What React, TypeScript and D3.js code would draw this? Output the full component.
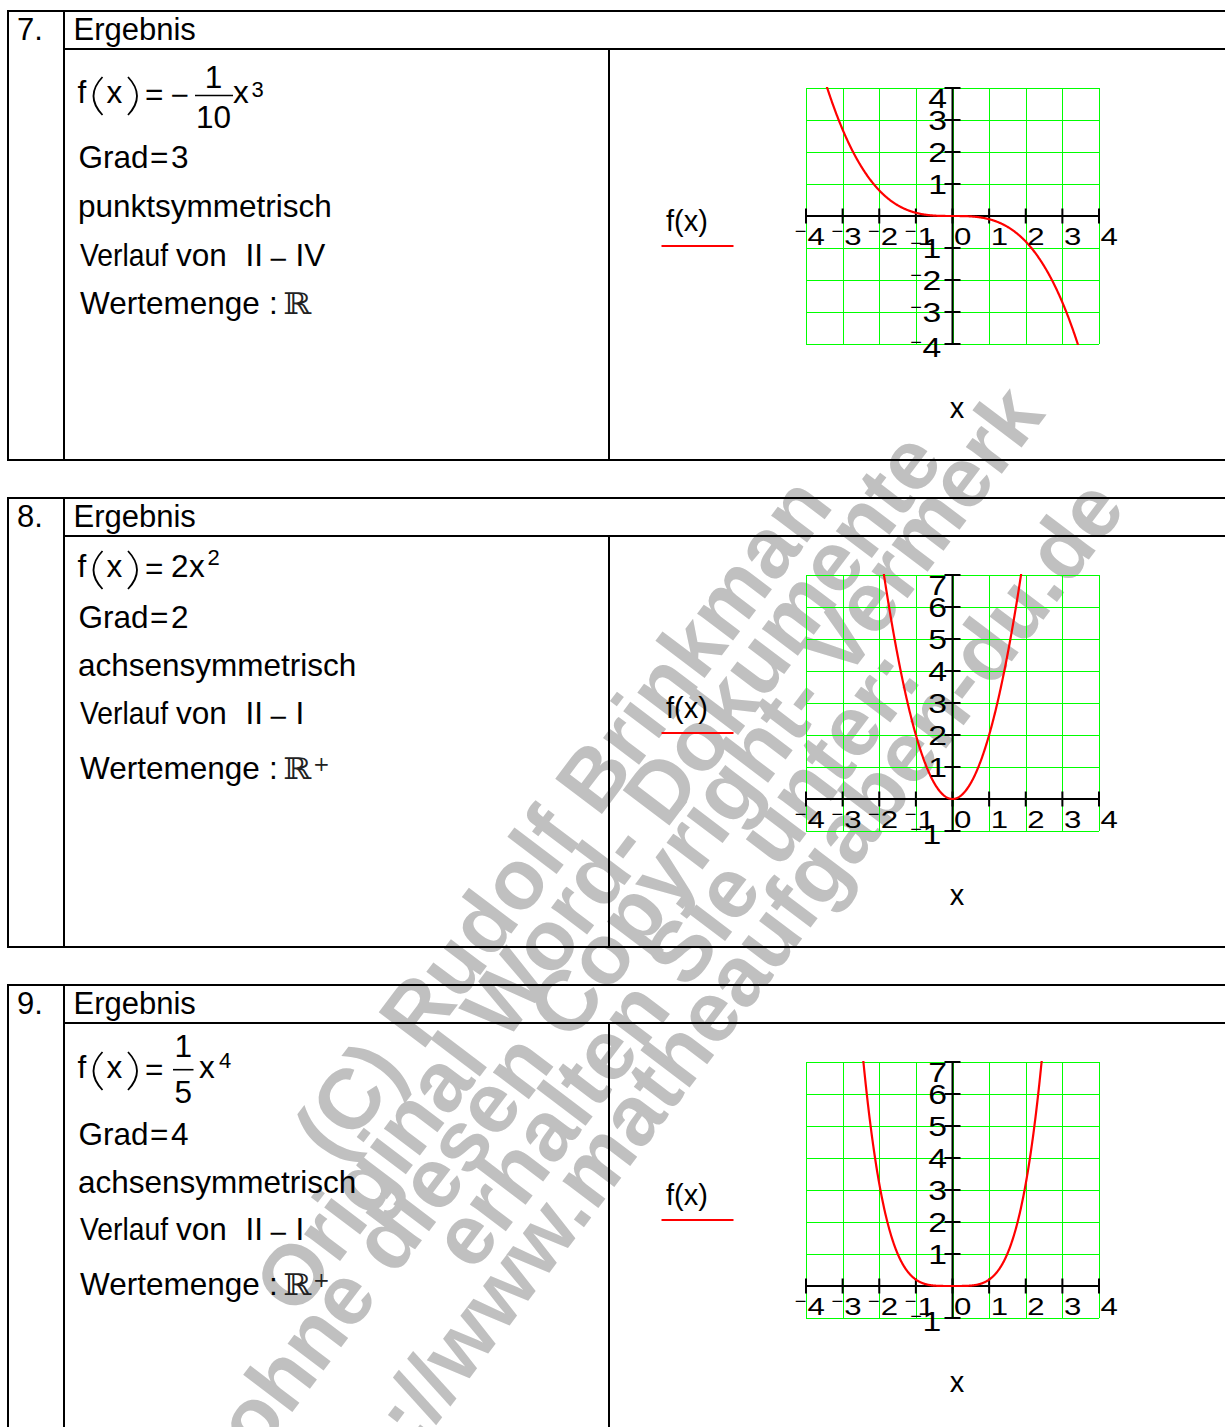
import React from "react";
import * as d3 from "d3";

const PAGE_W = 1225;
const PAGE_H = 1427;
const FONT = "'Liberation Sans', Arial, Helvetica, sans-serif";

// ---------- content ----------
const panelNumbers = ["7.", "8.", "9."];
const headerText = "Ergebnis";
const coefNumerators = [-1, 2, 1];
const coefDenominators = [10, 1, 5];
const exponents = [3, 2, 4];
const symmetryTexts = ["punktsymmetrisch", "achsensymmetrisch", "achsensymmetrisch"];
const courseFrom = ["II", "II", "II"];
const courseTo = ["IV", "I", "I"];
const rangeSymbol = "ℝ";
const rangeSuperscripts = ["", "+", "+"];
const legendText = "f(x)";
const axisTitle = "x";
const xDomain: [number, number] = [-4, 4];
const yDomains: [number, number][] = [
  [-4, 4],
  [-1, 7],
  [-1, 7],
];
const xTickValues = [-4, -3, -2, -1, 0, 1, 2, 3, 4];
const yTickValues = [
  [-4, -3, -2, -1, 0, 1, 2, 3, 4],
  [-1, 0, 1, 2, 3, 4, 5, 6, 7],
  [-1, 0, 1, 2, 3, 4, 5, 6, 7],
];
const sampleStep = 0.01;

const watermarkLines = [
  "(C) Rudolf Brinkman",
  "Original Word- Dokumente",
  "ohne diesen Copyright- Vermerk",
  "erhalten Sie unter:",
  "http://www.matheaufgaben-du.de",
];

// ---------- layout ----------
const SECTION_TOPS = [11, 498, 985];
const HEADER_H = 38;
const SECTION_H = 449;
const LEFT_X = 8;
const COL_NUM_X = 64;
const COL_MID_X = 609;
// baselines (relative to section top): formula, Grad, symmetry, Verlauf, Wertemenge
const ROW_BASELINES = [
  [92, 157, 206, 255, 303],
  [79, 130, 178, 226, 281],
  [93, 160, 208, 255, 310],
];
const FORMULA_LAYOUT = [
  { minusX: 170.5, fracX0: 195, fracX1: 233, fracCx: 213.5, numDy: -15, barDy: -7.5, denDy: 25, xX: 233, supX: 251.5, supDy: -6.5 },
  { coefX: 171, xX: 189, supX: 207.5, supDy: -12 },
  { fracX0: 173, fracX1: 193.5, fracCx: 183.3, numDy: -21.5, barDy: -8.3, denDy: 25, xX: 199, supX: 219, supDy: -10 },
];
const PLOT = { left: 806, right: 1099, top: 77, height: 256 };
const WATERMARK = {
  angle: -52.9,
  size: 85,
  anchors: [
    [585.7, 835.3],
    [621, 889.7],
    [652, 936.3],
    [698.7, 976],
    [724, 1042],
  ],
};

const TXT = 31.5;
const GRID_COLOR = "#00ff00";
const CURVE_COLOR = "#ff0000";

function Watermark() {
  return (
    <g fill="#c0c0c0" fontWeight="bold" fontSize={WATERMARK.size} fontFamily={FONT}>
      {watermarkLines.map((t, k) => {
        const [ax, ay] = WATERMARK.anchors[k];
        return (
          <text key={k} x={0} y={0} textAnchor="middle" transform={`translate(${ax},${ay}) rotate(${WATERMARK.angle})`}>
            {t}
          </text>
        );
      })}
    </g>
  );
}

function Paren({ x, y, open }: { x: number; y: number; open: boolean }) {
  const bulge = open ? -18 : 18;
  return (
    <path
      d={`M${x},${y - 26} Q${x + bulge},${y - 7} ${x},${y + 12}`}
      fill="none"
      stroke="#000"
      strokeWidth={1.8}
    />
  );
}

function Formula({ i, y }: { i: number; y: number }) {
  const L: any = FORMULA_LAYOUT[i];
  const num = coefNumerators[i];
  const den = coefDenominators[i];
  const parts: React.ReactNode[] = [];
  if (num < 0 && L.minusX !== undefined) {
    parts.push(
      <text key="m" x={L.minusX} y={y + 3}>
        {"\u2212"}
      </text>
    );
  }
  if (den !== 1) {
    parts.push(
      <g key="frac">
        <text x={L.fracCx} y={y + L.numDy} textAnchor="middle">
          {Math.abs(num)}
        </text>
        <line x1={L.fracX0} x2={L.fracX1} y1={y + L.barDy} y2={y + L.barDy} stroke="#000" strokeWidth={1.6} />
        <text x={L.fracCx} y={y + L.denDy} textAnchor="middle">
          {den}
        </text>
      </g>
    );
  } else {
    parts.push(
      <text key="c" x={L.coefX} y={y}>
        {num}
      </text>
    );
  }
  return (
    <g fontSize={TXT}>
      <text x={77.5} y={y}>f</text>
      <Paren x={102.5} y={y} open={true} />
      <text x={106.5} y={y}>x</text>
      <Paren x={128} y={y} open={false} />
      <text x={145} y={y + 1.5}>=</text>
      {parts}
      <text x={L.xX} y={y}>x</text>
      <text x={L.supX} y={y + L.supDy} fontSize={22}>
        {exponents[i]}
      </text>
    </g>
  );
}

function Plot({ i }: { i: number }) {
  const sTop = SECTION_TOPS[i];
  const top = sTop + PLOT.top;
  const bottom = top + PLOT.height;
  const x = d3.scaleLinear().domain(xDomain).range([PLOT.left, PLOT.right]);
  const y = d3.scaleLinear().domain(yDomains[i]).range([bottom, top]);
  const coef = coefNumerators[i] / coefDenominators[i];
  const f = (v: number) => coef * Math.pow(v, exponents[i]);
  const xs = d3.range(xDomain[0], xDomain[1] + sampleStep / 2, sampleStep);
  const path = d3
    .line<number>()
    .x((v) => x(v))
    .y((v) => y(f(v)))(xs) as string;
  const x0 = x(0);
  const y0 = y(0);
  const yt = yTickValues[i];
  const yMax = d3.max(yt) as number;
  const yMin = d3.min(yt) as number;
  const clipId = `plot-clip-${i}`;

  return (
    <g>
      <defs>
        <clipPath id={clipId}>
          <rect x={PLOT.left - 1} y={top - 1} width={PLOT.right - PLOT.left + 2} height={PLOT.height + 2} />
        </clipPath>
      </defs>
      {/* grid */}
      <g stroke={GRID_COLOR} strokeWidth={1} shapeRendering="crispEdges">
        {xTickValues.map((v) => (
          <line key={`gx${v}`} x1={Math.round(x(v)) + 0.5} x2={Math.round(x(v)) + 0.5} y1={top} y2={bottom} />
        ))}
        {yt.map((v) => (
          <line key={`gy${v}`} x1={PLOT.left} x2={PLOT.right} y1={Math.round(y(v)) + 0.5} y2={Math.round(y(v)) + 0.5} />
        ))}
      </g>
      {/* axes */}
      <g stroke="#000" strokeWidth={2}>
        <line x1={PLOT.left} x2={PLOT.right} y1={y0} y2={y0} />
        <line x1={x0} x2={x0} y1={top} y2={bottom} />
        {xTickValues.map((v) => (
          <line key={`tx${v}`} x1={x(v)} x2={x(v)} y1={y0 - 7.5} y2={y0 + 7.5} />
        ))}
        {yt.map((v) => (
          <line key={`ty${v}`} x1={x0 - 8} x2={x0 + 8} y1={y(v)} y2={y(v)} />
        ))}
      </g>
      {/* function graph */}
      <path d={path} fill="none" stroke={CURVE_COLOR} strokeWidth={2.2} clipPath={`url(#${clipId})`} strokeLinejoin="round" />
      {/* x tick labels */}
      <g fill="#000">
        {xTickValues.map((v) => {
          const tx = x(v);
          const by = y0 + 29;
          return (
            <g key={`lx${v}`}>
              {v < 0 && (
                <text x={tx + 0.5} y={by - 7.5} fontSize={20} textAnchor="end">
                  {"\u2212"}
                </text>
              )}
              <g transform={`translate(${tx + 1.5},${by}) scale(1.3,1)`}>
                <text x={0} y={0} fontSize={24}>
                  {Math.abs(v)}
                </text>
              </g>
            </g>
          );
        })}
      </g>
      {/* y tick labels */}
      <g fill="#000">
        {yt
          .filter((v) => v !== 0)
          .map((v) => {
            const ty = y(v);
            const by = v === yMax ? ty + 20 : v === yMin ? ty + 13 : ty + 10;
            if (v < 0) {
              return (
                <g key={`ly${v}`}>
                  <text x={x0 - 30.5} y={by - 8.5} fontSize={20} textAnchor="end">
                    {"\u2212"}
                  </text>
                  <g transform={`translate(${x0 - 30},${by}) scale(1.25,1)`}>
                    <text x={0} y={0} fontSize={27}>
                      {Math.abs(v)}
                    </text>
                  </g>
                </g>
              );
            }
            return (
              <g key={`ly${v}`} transform={`translate(${x0 - 5.5},${by}) scale(1.25,1)`}>
                <text x={0} y={0} fontSize={27} textAnchor="end">
                  {v}
                </text>
              </g>
            );
          })}
      </g>
      {/* legend and axis title */}
      <text x={666} y={sTop + 220} fontSize={29}>
        {legendText}
      </text>
      <line x1={661.5} x2={733.5} y1={sTop + 235} y2={sTop + 235} stroke={CURVE_COLOR} strokeWidth={2} />
      <text x={957} y={sTop + 407} fontSize={29} textAnchor="middle">
        {axisTitle}
      </text>
    </g>
  );
}

function Section({ i }: { i: number }) {
  const top = SECTION_TOPS[i];
  const bottom = top + SECTION_H;
  const headerY = top + HEADER_H;
  const rows = ROW_BASELINES[i].map((r) => top + r);
  const sup = rangeSuperscripts[i];
  return (
    <g>
      {/* table borders */}
      <g stroke="#000" strokeWidth={2}>
        <line x1={LEFT_X - 1} x2={PAGE_W} y1={top} y2={top} />
        <line x1={COL_NUM_X} x2={PAGE_W} y1={headerY} y2={headerY} />
        <line x1={LEFT_X - 1} x2={PAGE_W} y1={bottom} y2={bottom} />
        <line x1={LEFT_X} x2={LEFT_X} y1={top} y2={bottom} />
        <line x1={COL_NUM_X} x2={COL_NUM_X} y1={top} y2={bottom} />
        <line x1={COL_MID_X} x2={COL_MID_X} y1={headerY} y2={bottom} />
      </g>
      {/* header row */}
      <g fontSize={31}>
        <text x={17} y={top + 29}>
          {panelNumbers[i]}
        </text>
        <text x={73.5} y={top + 29}>
          {headerText}
        </text>
      </g>
      {/* result description */}
      <Formula i={i} y={rows[0]} />
      <g fontSize={TXT}>
        <text x={78.5} y={rows[1]}>Grad</text>
        <text x={150} y={rows[1]}>=</text>
        <text x={171} y={rows[1]}>{exponents[i]}</text>

        <text x={78} y={rows[2]}>{symmetryTexts[i]}</text>

        <text x={80} y={rows[3]} textLength={88} lengthAdjust="spacingAndGlyphs">
          Verlauf
        </text>
        <text x={176} y={rows[3]}>von</text>
        <text x={245.5} y={rows[3]}>{courseFrom[i]}</text>
        <text x={269} y={rows[3] + 4}>{"\u2212"}</text>
        <text x={295.5} y={rows[3]}>{courseTo[i]}</text>

        <text x={80} y={rows[4]}>Wertemenge</text>
        <text x={269} y={rows[4]}>:</text>
        <text
          x={283}
          y={rows[4]}
          fontFamily="'DejaVu Serif', serif"
          fontSize={30}
          fill="#222"
          textLength={28}
          lengthAdjust="spacingAndGlyphs"
        >
          {rangeSymbol}
        </text>
        {sup && (
          <text x={313} y={rows[4] - 8.5} fontFamily="'DejaVu Serif', serif" fontSize={20} fill="#222">
            {sup}
          </text>
        )}
      </g>
      <Plot i={i} />
    </g>
  );
}

export default function App() {
  return (
    <svg
      width={PAGE_W}
      height={PAGE_H}
      viewBox={`0 0 ${PAGE_W} ${PAGE_H}`}
      style={{ position: "absolute", left: 0, top: 0, display: "block" }}
      fontFamily={FONT}
    >
      <rect x={0} y={0} width={PAGE_W} height={PAGE_H} fill="#fff" />
      <Watermark />
      {panelNumbers.map((_, i) => (
        <Section key={i} i={i} />
      ))}
    </svg>
  );
}
